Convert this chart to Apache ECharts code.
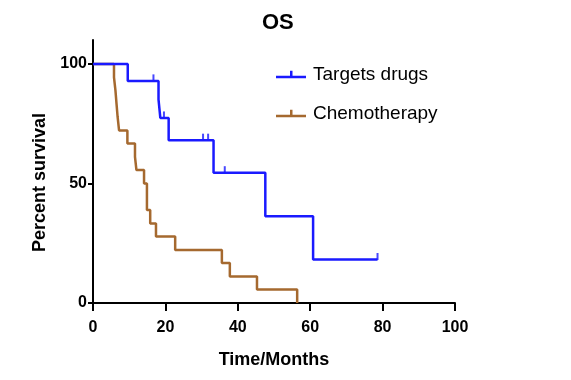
<!DOCTYPE html>
<html><head><meta charset="utf-8">
<script src="https://cdn.jsdelivr.net/npm/echarts@6/dist/echarts.min.js"></script>
<style>html,body{margin:0;padding:0;background:#fff}#c{width:571px;height:380px}</style>
</head><body><div id="c"></div>
<script>
// Kaplan-Meier steps: [time (months), percent survival]
const targetsTimes   = [0, 9.6, 18.1, 18.6, 20.9, 33.3, 47.6, 60.8, 78.6];
const targetsSurv    = [100, 92.9, 85.1, 77.4, 68.1, 54.5, 36.3, 18.2, 18.2];
const targetsCensorT = [16.7, 19.6, 30.4, 31.8, 36.4, 78.6];
const targetsCensorS = [92.9, 77.4, 68.1, 68.1, 54.5, 18.2];

const chemoTimes = [0, 5.8, 6.2, 6.5, 6.8, 7.2, 9.5, 11.6, 12.0, 14.1, 14.9, 15.8, 17.4, 22.7, 35.6, 37.8, 45.3, 56.4];
const chemoSurv  = [100, 94.4, 88.9, 83.3, 77.8, 72.2, 66.7, 61.1, 55.6, 50.0, 38.9, 33.3, 27.8, 22.2, 16.7, 11.1, 5.6, 0];

const xTicks = [0, 20, 40, 60, 80, 100];
const yTicks = [0, 50, 100];

const BLUE = '#1a1aff', BROWN = '#a5692f';
const zip = (a, b) => a.map((v, i) => [v, b[i]]);
const legendIcon = 'path://M0,7h30v2.5h-30z M14,2h2.5v6h-2.5z';

const chart = echarts.init(document.getElementById('c'), null, {renderer: 'canvas'});
chart.setOption({
  animation: false,
  title: {text: 'OS', left: 257, top: 7,
    textStyle: {fontFamily: 'Liberation Sans, Arial', fontWeight: 'bold', fontSize: 22, color: '#000'}},
  legend: {
    orient: 'vertical', left: 271, top: 60, itemGap: 20, itemWidth: 30, itemHeight: 10,
    data: [{name: 'Targets drugs', icon: legendIcon}, {name: 'Chemotherapy', icon: legendIcon}],
    textStyle: {fontFamily: 'Liberation Sans, Arial', fontSize: 19, color: '#000', padding: [0, 0, 0, 2]}
  },
  grid: {left: 93, right: 116, top: 40, bottom: 77, containLabel: false},
  xAxis: {
    type: 'value', min: 0, max: 100, interval: 20,
    name: 'Time/Months', nameLocation: 'middle', nameGap: 48,
    nameTextStyle: {fontFamily: 'Liberation Sans, Arial', fontWeight: 'bold', fontSize: 18, color: '#000'},
    axisLine: {show: true, onZero: false, lineStyle: {color: '#000', width: 2}},
    axisTick: {show: true, length: 8, lineStyle: {color: '#000', width: 2}, customValues: xTicks},
    axisLabel: {margin: 17, fontFamily: 'Liberation Sans, Arial', fontWeight: 'bold', fontSize: 16, color: '#000', customValues: xTicks},
    splitLine: {show: false}
  },
  yAxis: {
    type: 'value', min: 0, max: 110, interval: 50,
    name: 'Percent survival', nameLocation: 'middle', nameGap: 44,
    nameTextStyle: {fontFamily: 'Liberation Sans, Arial', fontWeight: 'bold', fontSize: 18, color: '#000', padding: [0, 0, 0, -22]},
    axisLine: {show: true, onZero: false, lineStyle: {color: '#000', width: 2}},
    axisTick: {show: true, length: 5, lineStyle: {color: '#000', width: 2}, customValues: yTicks},
    axisLabel: {margin: 6, fontFamily: 'Liberation Sans, Arial', fontWeight: 'bold', fontSize: 16, color: '#000', customValues: yTicks},
    splitLine: {show: false}
  },
  series: [
    {name: 'Targets drugs', type: 'line', step: 'end', data: zip(targetsTimes, targetsSurv),
     showSymbol: false, color: BLUE, lineStyle: {color: BLUE, width: 2.5}, z: 3},
    {name: 'Chemotherapy', type: 'line', step: 'end', data: zip(chemoTimes, chemoSurv),
     showSymbol: false, color: BROWN, lineStyle: {color: BROWN, width: 2.5}, z: 2},
    {name: 'Targets drugs', type: 'scatter', data: zip(targetsCensorT, targetsCensorS),
     symbol: 'rect', symbolSize: [2, 7], symbolOffset: [0, -3], itemStyle: {color: BLUE}, z: 4}
  ]
});
</script></body></html>
